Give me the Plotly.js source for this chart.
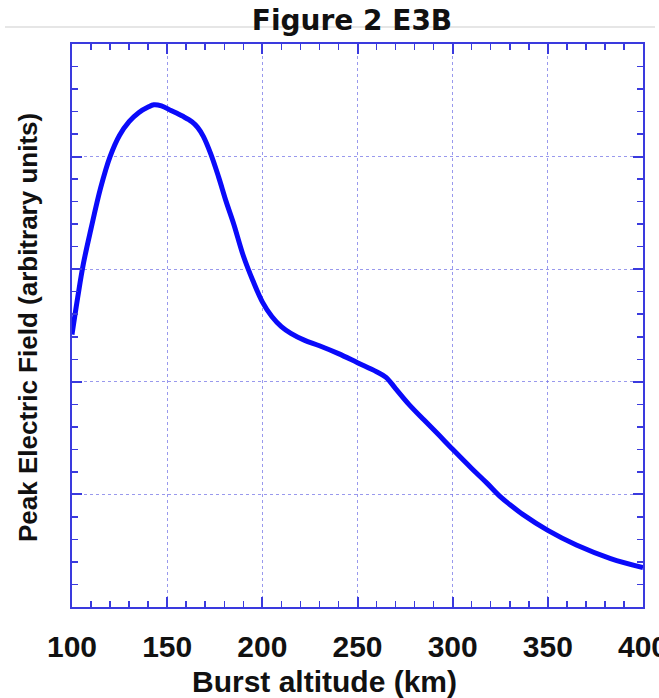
<!DOCTYPE html>
<html>
<head>
<meta charset="utf-8">
<script src="https://cdn.plot.ly/plotly-3.0.1.min.js"></script>
<style>html,body{margin:0;padding:0;background:#fff;overflow:hidden}#chart{width:659px;height:698px}</style>
</head>
<body>
<div id="chart"></div>
<script>
// Burst altitude (km)
const altitude = [100, 103, 106, 110, 115, 120, 125, 130, 135, 140, 143, 147, 152, 158, 163, 166, 169, 173, 177, 181, 185, 190, 195, 200, 205, 210, 215, 222, 230, 240, 250, 260, 265, 270, 277, 285, 292, 300, 310, 318, 325, 330, 337, 350, 365, 383, 400];
// Peak electric field (arbitrary units)
const peakField = [2.42, 2.75, 3.05, 3.36, 3.72, 4.00, 4.19, 4.31, 4.39, 4.44, 4.46, 4.45, 4.41, 4.36, 4.31, 4.26, 4.18, 4.02, 3.82, 3.60, 3.40, 3.12, 2.90, 2.71, 2.58, 2.49, 2.43, 2.37, 2.32, 2.25, 2.17, 2.09, 2.04, 1.94, 1.80, 1.66, 1.54, 1.40, 1.23, 1.10, 0.98, 0.91, 0.82, 0.68, 0.55, 0.43, 0.35];
const xTicks = [100, 150, 200, 250, 300, 350, 400];

const frameColor = 'rgb(58,58,222)';
const gridColor = 'rgba(110,110,230,0.7)';

const trace = {
  x: altitude, y: peakField, type: 'scatter', mode: 'lines',
  line: {color: 'rgb(10,10,250)', width: 5, shape: 'spline', smoothing: 1},
  hoverinfo: 'skip'
};

const layout = {
  width: 659, height: 698,
  margin: {l: 72, r: 16, t: 44, b: 91, pad: 0},
  paper_bgcolor: '#fff', plot_bgcolor: '#fff',
  showlegend: false,
  title: {
    text: 'Figure 2 E3B',
    font: {family: 'DejaVu Sans', size: 28, weight: 'bold', color: '#111'},
    xref: 'container', x: 352/659, xanchor: 'center',
    yref: 'container', y: 1 - 20/698, yanchor: 'middle'
  },
  xaxis: {
    range: [100, 400], tickvals: xTicks, ticktext: xTicks.map(String),
    showline: true, linecolor: frameColor, linewidth: 2, mirror: 'allticks',
    ticks: 'inside', ticklen: 10, tickwidth: 2, tickcolor: frameColor,
    showgrid: true, gridcolor: gridColor, griddash: 'dot', gridwidth: 1,
    zeroline: false,
    minor: {dtick: 10, ticks: 'inside', ticklen: 6, tickwidth: 1.5, tickcolor: frameColor, showgrid: false},
    tickfont: {family: 'Liberation Sans', size: 30, weight: 'bold', color: '#111'},
    ticklabelstandoff: 12,
    ticklabeloverflow: 'allow',
    fixedrange: true
  },
  yaxis: {
    range: [0, 5], dtick: 1, tick0: 0,
    showticklabels: false,
    showline: true, linecolor: frameColor, linewidth: 2, mirror: 'allticks',
    ticks: 'inside', ticklen: 10, tickwidth: 2, tickcolor: frameColor,
    showgrid: true, gridcolor: gridColor, griddash: 'dot', gridwidth: 1,
    zeroline: false,
    minor: {dtick: 0.2, ticks: 'inside', ticklen: 6, tickwidth: 1.5, tickcolor: frameColor, showgrid: false},
    fixedrange: true
  },
  shapes: [{
    type: 'line', xref: 'paper', yref: 'paper',
    x0: (5 - 72) / 571, x1: (655 - 72) / 571,
    y0: (607 - 27) / 563, y1: (607 - 27) / 563,
    line: {color: 'rgb(205,205,205)', width: 1}, layer: 'below'
  }],
  annotations: [
    {
      text: 'Burst altitude (km)', xref: 'paper', yref: 'paper',
      x: (324 - 72) / 571, y: (607 - 681) / 563, xanchor: 'center', yanchor: 'middle',
      showarrow: false,
      font: {family: 'Liberation Sans', size: 30, weight: 'bold', color: '#111'}
    },
    {
      text: 'Peak Electric Field (arbitrary units)', xref: 'paper', yref: 'paper',
      x: (28 - 72) / 571, y: (607 - 328) / 563, xanchor: 'center', yanchor: 'middle',
      textangle: -90, showarrow: false,
      font: {family: 'Liberation Sans', size: 26, weight: 'bold', color: '#111'}
    }
  ]
};

Plotly.newPlot('chart', [trace], layout, {displayModeBar: false, staticPlot: true});
</script>
</body>
</html>
